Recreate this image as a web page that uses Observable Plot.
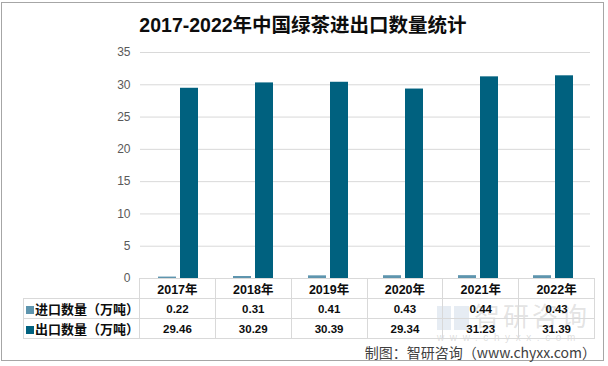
<!DOCTYPE html>
<html>
<head>
<meta charset="utf-8">
<script src="https://cdn.jsdelivr.net/npm/d3@7"></script>
<script src="https://cdn.jsdelivr.net/npm/@observablehq/plot@0.6"></script>
<style>
  html, body { margin: 0; padding: 0; background: #fff; }
  #wrap { position: relative; width: 608px; height: 366px; overflow: hidden; font-family: "Liberation Sans", "Noto Sans CJK SC", sans-serif; }
  #frame { position: absolute; left: 1px; top: 2px; width: 601px; height: 357px; border: 1px solid #a6a6a6; }
  #title { position: absolute; left: 0; top: 9px; width: 606px; text-align: center; font-size: 19.5px; font-weight: bold; color: #0d0d0d; font-family: "Liberation Sans", "Noto Sans CJK SC", sans-serif; }
  #chart { position: absolute; left: 0; top: 0; }
  table.dt { position: absolute; left: 23px; top: 278px; border-collapse: collapse; table-layout: fixed; font-family: "Liberation Sans", "Noto Sans CJK SC", sans-serif; color: #0d0d0d; }
  table.dt td { border: 1px solid #d9d9d9; height: 19px; padding: 0; text-align: center; font-weight: bold; font-size: 11.5px; }
  table.dt tr.hd td { font-size: 12.5px; }
  table.dt td.lab { text-align: left; font-size: 13px; padding-left: 2px; white-space: nowrap; font-family: "Noto Sans CJK SC", sans-serif; }
  table.dt td.blank { border-top: none; border-left: none; }
  .sw { display: inline-block; width: 8px; height: 8px; margin-right: 1px; vertical-align: 0px; }
  #wm1 { position: absolute; left: 474px; top: 298px; font-size: 26px; line-height: 34px; color: rgba(160,160,160,0.3); font-family: "Noto Sans CJK SC", sans-serif; letter-spacing: 3px; }
  #wm2 { position: absolute; left: 437px; top: 332px; font-size: 10px; color: rgba(160,160,160,0.35); letter-spacing: 5.6px; }
  #logo { position: absolute; left: 437px; top: 306px; width: 32px; height: 24px; }
  #caption { position: absolute; right: 12px; top: 342px; font-size: 14px; color: #404040; font-family: "Noto Sans CJK SC", sans-serif; }
</style>
</head>
<body>
<div id="wrap">
  <div id="frame"></div>
  <div id="chart"></div>
  <div id="title">2017-2022年中国绿茶进出口数量统计</div>
  <div id="logo"><div style="position:absolute;left:0;top:0;width:14px;height:24px;background:rgba(140,170,200,0.22)"></div><div style="position:absolute;left:17px;top:0;width:15px;height:24px;background:rgba(140,170,200,0.22)"></div></div>
  <div id="wm1">智研咨询</div>
  <div id="wm2">www.chyxx.com</div>
  <div id="caption">制图：智研咨询（www.chyxx.com）</div>
</div>
<script>
// ---- data ----
const years = ["2017年", "2018年", "2019年", "2020年", "2021年", "2022年"];
const seriesNames = ["进口数量（万吨）", "出口数量（万吨）"];
const importValues = [0.22, 0.31, 0.41, 0.43, 0.44, 0.43];
const exportValues = [29.46, 30.29, 30.39, 29.34, 31.23, 31.39];
const seriesColors = ["#5e95ae", "#00617f"];
const yTicks = [0, 5, 10, 15, 20, 25, 30, 35];

const allSeries = [importValues, exportValues];
const rows = [];
years.forEach((yr, i) => {
  seriesNames.forEach((s, k) => rows.push({ year: yr, series: s, value: allSeries[k][i] }));
});

const chart = Plot.plot({
  width: 608,
  height: 366,
  marginLeft: 137,
  marginRight: 16,
  marginTop: 52,
  marginBottom: 88,
  style: { fontFamily: "Liberation Sans, sans-serif", fontSize: "12px", color: "#595959", background: "transparent" },
  fx: { domain: years, padding: 0, axis: null },
  x: { domain: seriesNames, paddingInner: 0.2, paddingOuter: 0.78, axis: null },
  y: { domain: [0, 35], ticks: yTicks, label: null },
  color: { domain: seriesNames, range: seriesColors },
  marks: [
    Plot.gridY(yTicks, { stroke: "#d9d9d9", strokeOpacity: 1 }),
    Plot.axisY(yTicks, { tickSize: 0, tickPadding: 10, fill: "#595959", label: null, fontSize: 12 }),
    Plot.barY(rows, { fx: "year", x: "series", y: "value", fill: "series" })
  ]
});
document.getElementById("chart").appendChild(chart);

// ---- data table ----
const colW = (592 - 137) / years.length;
const table = document.createElement("table");
table.className = "dt";
const cg = document.createElement("colgroup");
const c0 = document.createElement("col"); c0.style.width = "114px"; cg.appendChild(c0);
years.forEach(() => { const c = document.createElement("col"); c.style.width = colW + "px"; cg.appendChild(c); });
table.appendChild(cg);
const hd = document.createElement("tr"); hd.className = "hd";
const b = document.createElement("td"); b.className = "blank"; hd.appendChild(b);
years.forEach(y => { const td = document.createElement("td"); td.textContent = y; hd.appendChild(td); });
table.appendChild(hd);
seriesNames.forEach((s, k) => {
  const tr = document.createElement("tr");
  const lab = document.createElement("td"); lab.className = "lab";
  const sw = document.createElement("span"); sw.className = "sw"; sw.style.background = seriesColors[k];
  lab.appendChild(sw); lab.appendChild(document.createTextNode(s));
  tr.appendChild(lab);
  allSeries[k].forEach(v => { const td = document.createElement("td"); td.textContent = v.toFixed(2); tr.appendChild(td); });
  table.appendChild(tr);
});
document.getElementById("wrap").appendChild(table);
</script>
</body>
</html>
